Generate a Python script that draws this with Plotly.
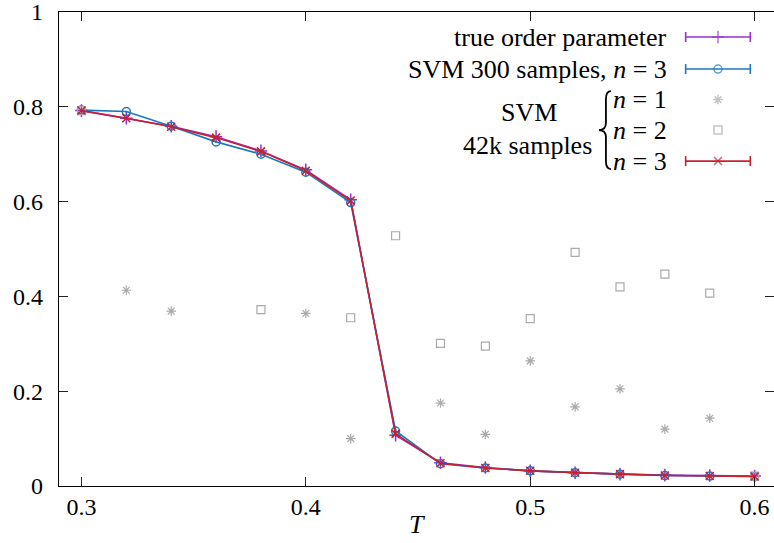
import plotly.graph_objects as go

# ---------------- data ----------------
T = [0.30, 0.32, 0.34, 0.36, 0.38, 0.40, 0.42, 0.44, 0.46, 0.48, 0.50, 0.52, 0.54, 0.56, 0.58, 0.60]
true_order = [0.792, 0.776, 0.759, 0.737, 0.707, 0.667, 0.604, 0.107, 0.049, 0.039, 0.032, 0.028, 0.025, 0.023, 0.022, 0.021]
svm300_n3 = [0.793, 0.790, 0.759, 0.726, 0.700, 0.662, 0.598, 0.116, 0.047, 0.038, 0.032, 0.028, 0.025, 0.022, 0.021, 0.020]
svm42k_n1 = [None, 0.413, 0.369, None, None, 0.364, 0.100, None, 0.175, 0.109, 0.264, 0.167, 0.205, 0.120, 0.143, None]
svm42k_n2 = [0.792, None, None, None, 0.372, None, 0.355, 0.528, 0.301, 0.295, 0.353, 0.493, 0.420, 0.447, 0.407, 0.021]
svm42k_n3 = [0.792, 0.776, 0.758, 0.735, 0.706, 0.665, 0.602, 0.110, 0.048, 0.038, 0.032, 0.028, 0.025, 0.022, 0.021, 0.020]

x_ticks = [0.3, 0.4, 0.5, 0.6]
x_tick_labels = ["0.3", "0.4", "0.5", "0.6"]
y_ticks = [0, 0.2, 0.4, 0.6, 0.8, 1]
y_tick_labels = ["0", "0.2", "0.4", "0.6", "0.8", "1"]

legend_labels = ["true order parameter", "SVM 300 samples, <i>n</i> = 3",
                 "<i>n</i> = 1", "<i>n</i> = 2", "<i>n</i> = 3"]

# ---------------- style ----------------
PURPLE = "#9a2fd0"
BLUE = "#1a7abf"
GRAY = "#aaaaaa"
RED = "#c8202e"
FONT = "'Liberation Serif', serif"
W, H = 774, 543
L, R, TOP, B = 59.3, 774, 12, 485.7

def px(x):
    return (x - L) / (R - L)

def py(y):
    return (B - y) / (B - TOP)

fig = go.Figure()

def line_trace(y, color, symbol, size):
    return go.Scatter(
        x=T, y=y, mode="lines+markers",
        line=dict(color=color, width=1.6),
        marker=dict(symbol=symbol, size=size, color=color,
                    line=dict(color=color, width=1.5)),
        showlegend=False, hoverinfo="skip")

fig.add_trace(line_trace(true_order, PURPLE, "cross-thin-open", 9))
fig.add_trace(line_trace(svm300_n3, BLUE, "circle-open", 8))
fig.add_trace(go.Scatter(x=T, y=svm42k_n1, mode="markers",
                         marker=dict(symbol="asterisk-open", size=8, color=GRAY,
                                     line=dict(color=GRAY, width=1.2)),
                         showlegend=False, hoverinfo="skip"))
fig.add_trace(go.Scatter(x=T, y=svm42k_n2, mode="markers",
                         marker=dict(symbol="square-open", size=8, color=GRAY,
                                     line=dict(color=GRAY, width=1.2)),
                         showlegend=False, hoverinfo="skip"))
fig.add_trace(line_trace(svm42k_n3, RED, "x-thin-open", 8))

# dummy trace for right-side mirrored ticks
fig.add_trace(go.Scatter(x=[None], y=[None], yaxis="y3", showlegend=False, hoverinfo="skip"))

# ---------------- custom legend ----------------
rows = [37, 69, 99.5, 130, 161]
key_x0, key_x1, key_xm = 685.7, 750.3, 718
text_right = 669

shapes = []
annotations = []

def key_line(yrow, color):
    shapes.append(dict(type="line", xref="paper", yref="paper",
                       x0=px(key_x0), x1=px(key_x1), y0=py(yrow), y1=py(yrow),
                       line=dict(color=color, width=1.6)))
    for xx in (key_x0, key_x1):
        shapes.append(dict(type="line", xref="paper", yref="paper",
                           x0=px(xx), x1=px(xx), y0=py(yrow - 5), y1=py(yrow + 5),
                           line=dict(color=color, width=1.6)))

key_line(rows[0], PURPLE)
key_line(rows[1], BLUE)
key_line(rows[4], RED)

fig.add_trace(go.Scatter(
    x=[px(key_xm)] * 5, y=[py(r) for r in rows], xaxis="x2", yaxis="y2",
    mode="markers",
    marker=dict(symbol=["cross-thin-open", "circle-open", "asterisk-open", "square-open", "x-thin-open"],
                size=[9, 8, 8, 8, 8],
                color=[PURPLE, BLUE, GRAY, GRAY, RED],
                line=dict(color=[PURPLE, BLUE, GRAY, GRAY, RED], width=1.5)),
    showlegend=False, hoverinfo="skip"))

LEG_SIZE = 26
for lbl, r in zip(legend_labels, rows):
    annotations.append(dict(text=lbl, xref="paper", yref="paper", x=px(text_right), y=py(r),
                            xanchor="right", yanchor="middle", showarrow=False,
                            font=dict(family=FONT, size=LEG_SIZE, color="black")))
annotations.append(dict(text="SVM", xref="paper", yref="paper", x=px(529), y=py(112),
                        xanchor="center", yanchor="middle", showarrow=False,
                        font=dict(family=FONT, size=LEG_SIZE, color="black")))
annotations.append(dict(text="42k samples", xref="paper", yref="paper", x=px(528), y=py(145),
                        xanchor="center", yanchor="middle", showarrow=False,
                        font=dict(family=FONT, size=LEG_SIZE, color="black")))

# curly brace
def P(x, y):
    return f"{px(x):.5f},{py(y):.5f}"

bx, tip, top_y, mid_y, bot_y = 607, 599, 91, 130, 169
brace = (f"M {P(bx + 4, top_y)} Q {P(bx - 1, top_y)} {P(bx - 1, top_y + 8)} "
         f"L {P(bx - 1, mid_y - 7)} Q {P(bx - 1, mid_y)} {P(tip, mid_y)} "
         f"Q {P(bx - 1, mid_y)} {P(bx - 1, mid_y + 7)} "
         f"L {P(bx - 1, bot_y - 8)} Q {P(bx - 1, bot_y)} {P(bx + 4, bot_y)}")
shapes.append(dict(type="path", xref="paper", yref="paper", path=brace,
                   line=dict(color="black", width=1.8)))

# x-axis title
annotations.append(dict(text="<i>T</i>", xref="paper", yref="paper", x=px(417), y=py(524),
                        xanchor="center", yanchor="middle", showarrow=False,
                        font=dict(family=FONT, size=26, color="black")))

# ---------------- layout ----------------
xr = [0.29, 0.29 + (R - L) / 2243.0]
fig.update_layout(
    width=W, height=H,
    margin=dict(l=L, r=W - R, t=TOP, b=H - B),
    paper_bgcolor="white", plot_bgcolor="white",
    font=dict(family=FONT, size=24, color="black"),
    shapes=shapes, annotations=annotations,
    xaxis=dict(range=xr, tickvals=x_ticks, ticktext=x_tick_labels,
               ticks="inside", ticklen=9, tickwidth=1.2, tickcolor="#222",
               showline=True, linecolor="black", linewidth=1.3, mirror="ticks",
               showgrid=False, zeroline=False, ticklabelstandoff=-1,
               ticklabeloverflow="allow",
               tickfont=dict(family=FONT, size=24, color="black")),
    yaxis=dict(range=[0, 1], tickvals=y_ticks, ticktext=y_tick_labels,
               ticks="inside", ticklen=9, tickwidth=1.2, tickcolor="#222",
               showline=True, linecolor="black", linewidth=1.3, mirror=False,
               showgrid=False, zeroline=False, ticklabelstandoff=10,
               ticklabeloverflow="allow",
               tickfont=dict(family=FONT, size=24, color="black")),
    yaxis3=dict(range=[0, 1], overlaying="y", side="right", anchor="x",
                tickvals=y_ticks, ticks="inside", ticklen=9, tickwidth=1.2, tickcolor="#222",
                showticklabels=False, showline=False, showgrid=False, zeroline=False),
    xaxis2=dict(range=[0, 1], overlaying="x", anchor="y2", visible=False),
    yaxis2=dict(range=[0, 1], overlaying="y", anchor="x2", visible=False),
)

fig.write_html("out.html")
